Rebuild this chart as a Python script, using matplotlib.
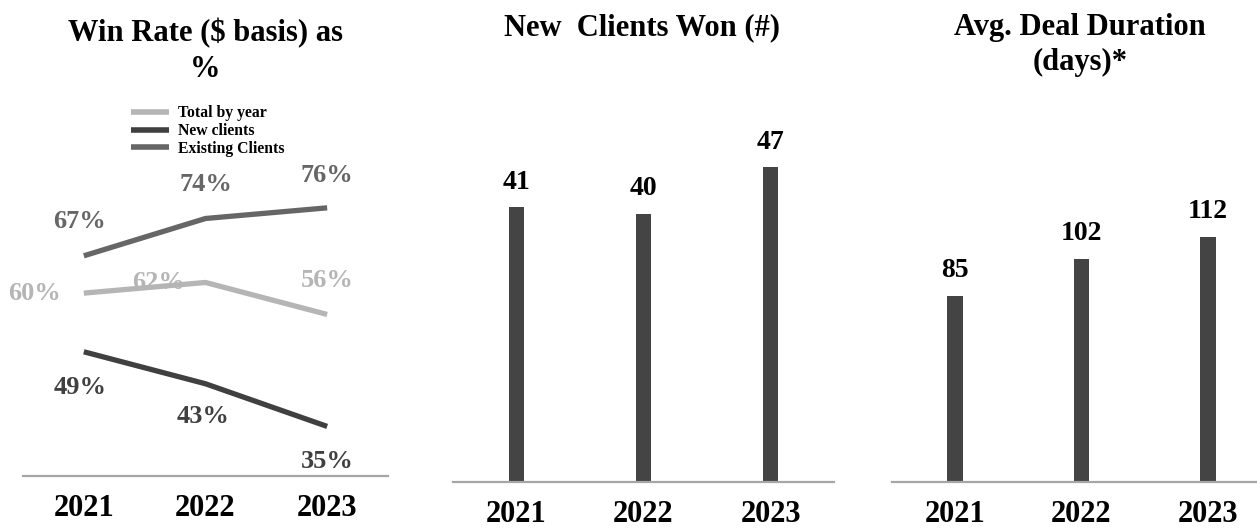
import matplotlib
matplotlib.use('Agg')
from matplotlib import pyplot as plt
import numpy as np

# data
years = ['2021', '2022', '2023']
total_rate = [60, 62, 56]
new_rate = [49, 43, 35]
existing_rate = [67, 74, 76]
new_clients = [41, 40, 47]
deal_days = [85, 102, 112]

plt.rcParams['font.family'] = ['Liberation Serif', 'DejaVu Serif']
plt.rcParams['font.weight'] = 'bold'

W, H = 1257, 529
fig = plt.figure(figsize=(W / 100, H / 100), dpi=100)


def px_axes(x0, x1, ytop, ybot):
    return fig.add_axes([x0 / W, 1 - ybot / H, (x1 - x0) / W, (ybot - ytop) / H])


def style(ax):
    for s in ['top', 'right', 'left']:
        ax.spines[s].set_visible(False)
    ax.spines['bottom'].set_color('#a6a6a6')
    ax.spines['bottom'].set_linewidth(1.6)
    ax.set_yticks([])
    ax.tick_params(axis='x', length=0, pad=13, labelsize=22)
    for t in ax.get_xticklabels():
        t.set_fontweight('bold')


c_total = '#b5b5b5'
c_new = '#404040'
c_exist = '#666666'

# left: win rate lines
x = np.arange(len(years))
ax1 = px_axes(23, 388, 90, 476)
ax1.plot(x, total_rate, color=c_total, lw=3.8, solid_capstyle='butt', label='Total by year')
ax1.plot(x, new_rate, color=c_new, lw=3.8, solid_capstyle='butt', label='New clients')
ax1.plot(x, existing_rate, color=c_exist, lw=3.8, solid_capstyle='butt', label='Existing Clients')
ax1.set_xlim(-0.5, 2.5)
ax1.set_ylim(25.7, 98.1)
ax1.set_xticks(x, years)
style(ax1)

exist_off = [(-4, 34), (0, 34), (0, 32)]
total_off = [(-49, 0), (-47, 0), (0, 34)]
new_off = [(-4, -36), (-2, -33), (0, -35)]
for i in range(len(years)):
    ax1.annotate(f'{existing_rate[i]}%', (x[i], existing_rate[i]), xytext=exist_off[i],
                 textcoords='offset pixels', ha='center', va='center', fontsize=19,
                 fontweight='bold', color=c_exist)
    ax1.annotate(f'{total_rate[i]}%', (x[i], total_rate[i]), xytext=total_off[i],
                 textcoords='offset pixels', ha='center', va='center', fontsize=19,
                 fontweight='bold', color=c_total)
    ax1.annotate(f'{new_rate[i]}%', (x[i], new_rate[i]), xytext=new_off[i],
                 textcoords='offset pixels', ha='center', va='center', fontsize=19,
                 fontweight='bold', color=c_new)

leg = ax1.legend(loc='center', bbox_to_anchor=(208 / W, 1 - 131 / H),
                 bbox_transform=fig.transFigure, frameon=False,
                 prop={'size': 11.3, 'weight': 'bold'}, handlelength=2.4,
                 handletextpad=0.6, labelspacing=0.1, borderpad=0)
for h in leg.get_lines():
    h.set_linewidth(4)

fig.text(205 / W, 1 - 51 / H, 'Win Rate ($ basis) as\n%', ha='center', va='center',
         fontsize=22, fontweight='bold', linespacing=1.32)

# middle: new clients
ax2 = px_axes(453, 834, 90, 482)
ax2.bar(x, new_clients, width=0.125, color='#444444')
ax2.set_xlim(-0.5, 2.5)
ax2.set_ylim(0, 58.5)
ax2.set_xticks(x, years)
style(ax2)
for i, v in enumerate(new_clients):
    ax2.annotate(str(v), (x[i], v), xytext=(0, 25), textcoords='offset pixels',
                 ha='center', va='center', fontsize=20, fontweight='bold')
fig.text(642 / W, 1 - 28 / H, 'New  Clients Won (#)', ha='center', va='center',
         fontsize=22, fontweight='bold')

# right: deal duration
ax3 = px_axes(892, 1271, 90, 482)
ax3.bar(x, deal_days, width=0.125, color='#444444')
ax3.set_xlim(-0.5, 2.5)
ax3.set_ylim(0, 179)
ax3.set_xticks(x, years)
style(ax3)
for i, v in enumerate(deal_days):
    ax3.annotate(str(v), (x[i], v), xytext=(0, 25), textcoords='offset pixels',
                 ha='center', va='center', fontsize=20, fontweight='bold')
fig.text(1080 / W, 1 - 45 / H, 'Avg. Deal Duration\n(days)*', ha='center', va='center',
         fontsize=22, fontweight='bold', linespacing=1.3)

fig.savefig('out.png', dpi=100)
